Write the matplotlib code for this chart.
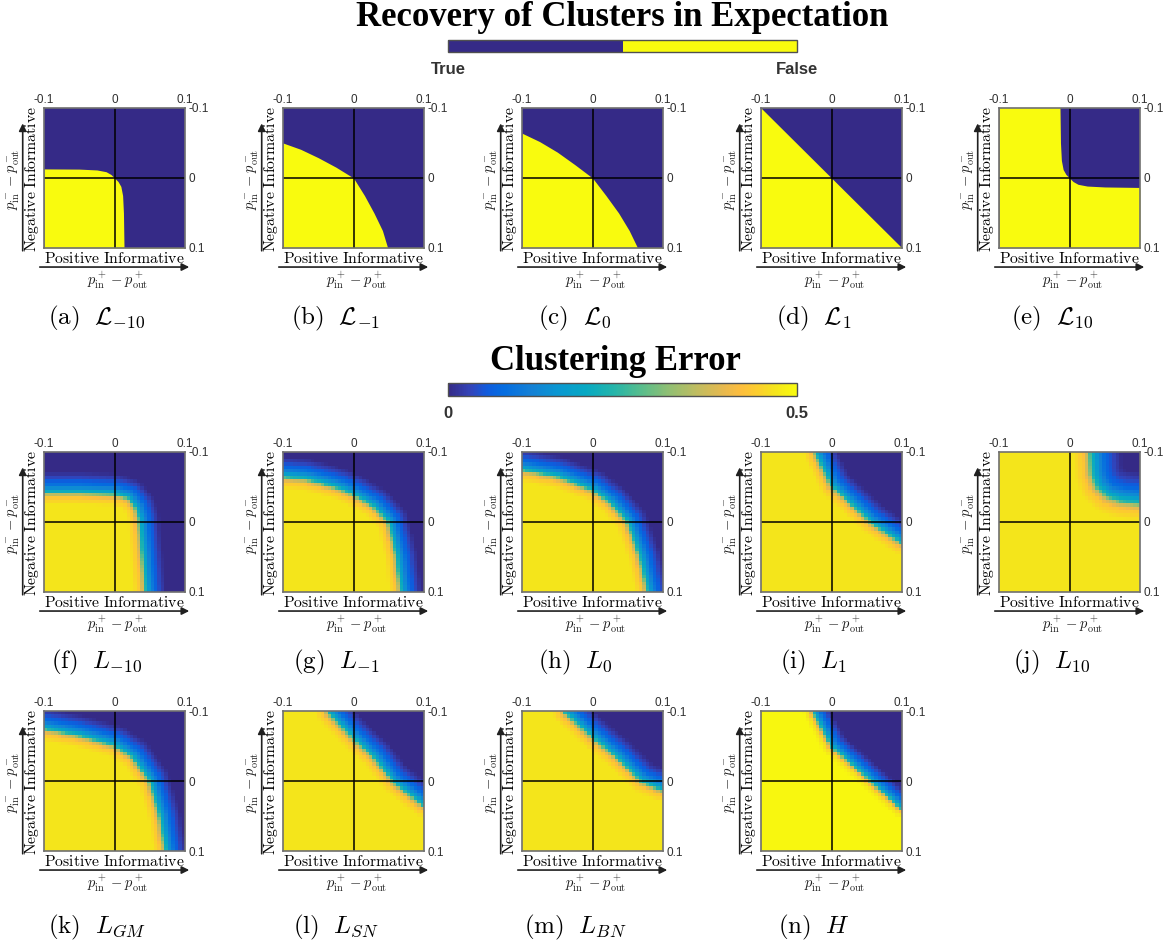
import numpy as np
import matplotlib.pyplot as plt
from matplotlib.colors import LinearSegmentedColormap, ListedColormap, Normalize
from matplotlib.cm import ScalarMappable

plt.rcParams['mathtext.fontset'] = 'cm'
plt.rcParams['font.family'] = ['Liberation Sans', 'DejaVu Sans']

BLUE = '#352a87'
YELLOW = '#f9fb0e'

# parula, sampled from the 64 entry table
parula_pos = np.array([0, 4, 7, 10, 15, 20, 25, 30, 35, 40, 45, 50, 53, 56, 59, 63]) / 63
parula_rgb = [(0.2081, 0.1663, 0.5292), (0.1959, 0.2645, 0.7279), (0.0591, 0.3598, 0.8683),
              (0.0165, 0.4266, 0.8786), (0.0779, 0.5040, 0.8384), (0.0343, 0.5966, 0.8199),
              (0.0267, 0.6642, 0.7607), (0.1453, 0.7098, 0.6646), (0.3482, 0.7424, 0.5473),
              (0.5709, 0.7485, 0.4494), (0.7525, 0.7384, 0.3768), (0.9139, 0.7258, 0.3063),
              (0.9938, 0.7455, 0.2403), (0.9880, 0.8066, 0.1794), (0.9589, 0.8949, 0.1132),
              (0.9763, 0.9831, 0.0538)]
parula = LinearSegmentedColormap.from_list('parula', list(zip(parula_pos, parula_rgb)))

# ---- recovery in expectation: boundary between recovered (top right) and not recovered
lm10_x = [-0.1, -0.05, -0.025, -0.012, -0.005, 0.0, 0.005, 0.009, 0.0115, 0.0127, 0.0135]
lm10_y = [-0.013, -0.0127, -0.0115, -0.009, -0.005, 0.0, 0.005, 0.012, 0.025, 0.05, 0.1]
lm1_x = [-0.1, -0.075, -0.05, -0.025, 0.0, 0.0155, 0.029, 0.041, 0.0485]
lm1_y = [-0.05, -0.041, -0.029, -0.0155, 0.0, 0.025, 0.05, 0.075, 0.1]
l0_x = [-0.1, -0.075, -0.05, -0.025, 0.0, 0.019, 0.037, 0.052, 0.064]
l0_y = [-0.064, -0.052, -0.037, -0.019, 0.0, 0.025, 0.05, 0.075, 0.1]
l1_x = [-0.1, 0.1]
l1_y = [-0.1, 0.1]
l10_x = [-0.0135, -0.0128, -0.0115, -0.009, -0.005, 0.0, 0.005, 0.012, 0.025, 0.05, 0.1]
l10_y = [-0.1, -0.05, -0.025, -0.012, -0.005, 0.0, 0.005, 0.009, 0.0115, 0.0128, 0.0135]

top_curves = [(lm10_x, lm10_y), (lm1_x, lm1_y), (l0_x, l0_y), (l1_x, l1_y), (l10_x, l10_y)]
top_labels = [r'$\mathrm{(a)}\ \ \mathcal{L}_{-10}$', r'$\mathrm{(b)}\ \ \mathcal{L}_{-1}$',
              r'$\mathrm{(c)}\ \ \mathcal{L}_{0}$', r'$\mathrm{(d)}\ \ \mathcal{L}_{1}$',
              r'$\mathrm{(e)}\ \ \mathcal{L}_{10}$']

# ---- clustering error: middle of the error transition (error ~ 0.25)
e_lm10_x = [-0.1, -0.05, 0.0, 0.02, 0.031, 0.036, 0.038, 0.041, 0.045]
e_lm10_y = [-0.043, -0.043, -0.041, -0.035, -0.021, -0.005, 0.02, 0.05, 0.1]
e_lm1_x = [-0.1, -0.07, -0.046, -0.02, 0.0, 0.029, 0.051, 0.063, 0.069]
e_lm1_y = [-0.066, -0.063, -0.057, -0.049, -0.040, -0.023, 0.0, 0.051, 0.1]
e_l0_x = [-0.1, -0.049, 0.0, 0.026, 0.051, 0.069, 0.08]
e_l0_y = [-0.076, -0.066, -0.047, -0.028, 0.0, 0.051, 0.1]
e_l1_x = [-0.023, 0.0, 0.057, 0.1]
e_l1_y = [-0.1, -0.053, 0.0, 0.03]
e_l10_x = [0.031, 0.033, 0.040, 0.055, 0.075, 0.1]
e_l10_y = [-0.1, -0.07, -0.052, -0.038, -0.031, -0.028]
e_lgm_x = [-0.1, -0.049, 0.0, 0.026, 0.051, 0.066, 0.074]
e_lgm_y = [-0.076, -0.066, -0.052, -0.035, 0.0, 0.051, 0.1]
e_lsn_x = [-0.037, 0.0, 0.029, 0.057, 0.1]
e_lsn_y = [-0.1, -0.062, -0.035, 0.0, 0.035]
e_lbn_x = [-0.04, 0.0, 0.035, 0.071, 0.1]
e_lbn_y = [-0.1, -0.064, -0.035, 0.0, 0.013]
e_h_x = [-0.027, 0.0, 0.0565, 0.1]
e_h_y = [-0.1, -0.05, 0.0, 0.04]

err_curves = [(e_lm10_x, e_lm10_y), (e_lm1_x, e_lm1_y), (e_l0_x, e_l0_y), (e_l1_x, e_l1_y),
              (e_l10_x, e_l10_y), (e_lgm_x, e_lgm_y), (e_lsn_x, e_lsn_y), (e_lbn_x, e_lbn_y),
              (e_h_x, e_h_y)]
err_plateau = [0.47, 0.47, 0.47, 0.47, 0.47, 0.47, 0.47, 0.47, 0.495]
err_width = [1.0, 1.0, 1.0, 1.0, 1.5, 1.0, 1.0, 1.0, 0.8]
err_labels = [r'$\mathrm{(f)}\ \ L_{-10}$', r'$\mathrm{(g)}\ \ L_{-1}$', r'$\mathrm{(h)}\ \ L_{0}$',
              r'$\mathrm{(i)}\ \ L_{1}$', r'$\mathrm{(j)}\ \ L_{10}$', r'$\mathrm{(k)}\ \ L_{GM}$',
              r'$\mathrm{(l)}\ \ L_{SN}$', r'$\mathrm{(m)}\ \ L_{BN}$', r'$\mathrm{(n)}\ \ H$']

# error ramp across the boundary (distance towards the recovered side)
ramp_d = [-0.018, -0.008, -0.003, 0.0, 0.006, 0.013, 0.021, 0.03]
ramp_f = [1.0, 0.92, 0.75, 0.5, 0.32, 0.17, 0.08, 0.0]

grid = np.linspace(-0.1, 0.1, 41)

W, H = 1167, 940
fig = plt.figure(figsize=(W / 100, H / 100), dpi=100)
lefts = [44, 283, 522, 761, 999]
tops = [108, 452, 711]
cap_y = [318, 662, 927]


def extended(bx, by):
    # carry the curve out to both sides of the frame: columns left of a curve that
    # starts on the top edge are not recovered, columns right of one that ends on
    # the bottom edge are fully recovered
    y_first = by[0] if bx[0] <= -0.1 else -0.2
    y_last = by[-1] if bx[-1] >= 0.1 else 0.2
    return np.r_[-0.1, bx, 0.1], np.r_[y_first, by, y_last]


def error_grid(bx, by, plateau, width):
    bx, by = np.asarray(bx), np.asarray(by)
    X, Y = np.meshgrid(grid, grid)
    px, py = X[..., None], Y[..., None]
    x0, y0, dx, dy = bx[:-1], by[:-1], np.diff(bx), np.diff(by)
    t = np.clip(((px - x0) * dx + (py - y0) * dy) / (dx ** 2 + dy ** 2), 0, 1)
    dist = np.hypot(px - (x0 + t * dx), py - (y0 + t * dy)).min(axis=-1)
    xs, ys = extended(bx, by)
    recovered = Y < np.interp(X, xs, ys)
    d = np.where(recovered, dist, -dist) / width
    return plateau * np.interp(d, ramp_d, ramp_f)


def panel(left, top):
    ax = fig.add_axes([left / W, 1 - (top + 140) / H, 141 / W, 140 / H])
    ax.set_xlim(-0.1, 0.1)
    ax.set_ylim(0.1, -0.1)
    ax.xaxis.tick_top()
    ax.yaxis.tick_right()
    ax.set_xticks([-0.1, 0, 0.1], ['-0.1', '0', '0.1'])
    ax.set_yticks([-0.1, 0, 0.1], ['-0.1', '0', '0.1'])
    ax.tick_params(length=0, pad=1.5, labelsize=8.5, labelcolor='#303030')
    ax.tick_params(axis='y', pad=2.5)
    for s in ax.spines.values():
        s.set_color('#707070')
        s.set_linewidth(1.2)
        s.set_zorder(5)
    ax.axhline(0, color='k', lw=1.1, zorder=4)
    ax.axvline(0, color='k', lw=1.1, zorder=4)
    tr = ax.transAxes
    ax.text(0.5, -0.072, r'$\mathrm{Positive\ Informative}$', transform=tr,
            ha='center', va='center', fontsize=11.3)
    ax.annotate('', xy=(1.03, -0.136), xytext=(-0.03, -0.136), xycoords=tr,
                arrowprops=dict(arrowstyle='-|>', color='#202020', lw=1.2,
                                mutation_scale=11, shrinkA=0, shrinkB=0),
                annotation_clip=False)
    ax.text(0.52, -0.232, r'$p^+_{\rm in} - p^+_{\rm out}$', transform=tr,
            ha='center', va='center', fontsize=10.5, color='#202020')
    ax.text(-0.087, 0.49, r'$\mathrm{Negative\ Informative}$', transform=tr,
            ha='center', va='center', fontsize=11.3, rotation=90)
    ax.annotate('', xy=(-0.151, 0.89), xytext=(-0.151, -0.02), xycoords=tr,
                arrowprops=dict(arrowstyle='-|>', color='#202020', lw=1.2,
                                mutation_scale=11, shrinkA=0, shrinkB=0),
                annotation_clip=False)
    ax.text(-0.213, 0.49, r'$p^-_{\rm in} - p^-_{\rm out}$', transform=tr,
            ha='center', va='center', fontsize=10.5, rotation=90, color='#202020')
    return ax


# row 1: recovery in expectation
for i, (bx, by) in enumerate(top_curves):
    ax = panel(lefts[i], tops[0])
    ax.set_facecolor(BLUE)
    xs, ys = extended(bx, by)
    ax.fill_between(xs, ys, 0.1, color=YELLOW, lw=0)
    fig.text((lefts[i] + 53) / W, 1 - cap_y[0] / H, top_labels[i],
             ha='center', va='center', fontsize=18)

# rows 2 and 3: clustering error
for k, (bx, by) in enumerate(err_curves):
    r, c = divmod(k, 5)
    ax = panel(lefts[c], tops[r + 1])
    ax.imshow(error_grid(bx, by, err_plateau[k], err_width[k]), cmap=parula,
              vmin=0, vmax=0.5, extent=(-0.1, 0.1, 0.1, -0.1),
              interpolation='nearest', aspect='auto')
    fig.text((lefts[c] + 53) / W, 1 - cap_y[r + 1] / H, err_labels[k],
             ha='center', va='center', fontsize=18)

# titles and colour bars
fig.text(622 / W, 1 - 17 / H, 'Recovery of Clusters in Expectation', ha='center',
         va='center', fontsize=25, fontweight='bold', family='Liberation Serif')
fig.text(615 / W, 1 - 361 / H, 'Clustering Error', ha='center',
         va='center', fontsize=25, fontweight='bold', family='Liberation Serif')

cax1 = fig.add_axes([448 / W, 1 - 52 / H, 349 / W, 12 / H])
cb1 = fig.colorbar(ScalarMappable(Normalize(0, 1), ListedColormap([BLUE, YELLOW])),
                   cax=cax1, orientation='horizontal')
cb1.set_ticks([0, 1], labels=['True', 'False'])

cax2 = fig.add_axes([448 / W, 1 - 396 / H, 349 / W, 13 / H])
cb2 = fig.colorbar(ScalarMappable(Normalize(0, 0.5), parula),
                   cax=cax2, orientation='horizontal')
cb2.set_ticks([0, 0.5], labels=['0', '0.5'])

for cb in (cb1, cb2):
    cb.outline.set_edgecolor('#505050')
    cb.outline.set_linewidth(1.0)
    cb.ax.tick_params(length=0, pad=7, labelsize=12, labelcolor='#333333')
    for lab in cb.ax.get_xticklabels():
        lab.set_fontweight('bold')

fig.savefig('out.png', dpi=100)
